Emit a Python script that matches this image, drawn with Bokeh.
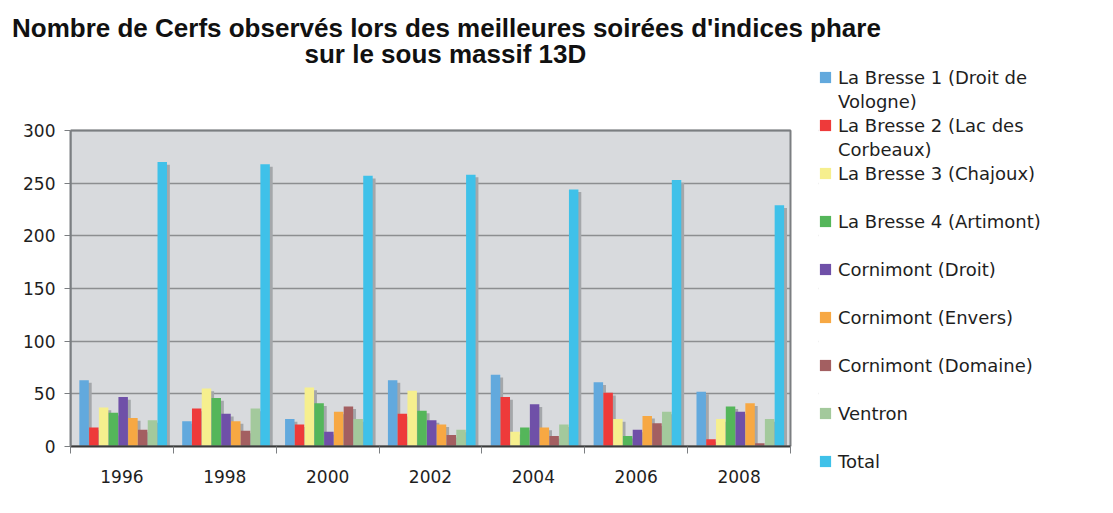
from bokeh.plotting import figure
from bokeh.models import Range1d, FixedTicker, Legend, LegendItem, Title
from bokeh.embed import file_html
from bokeh.resources import INLINE

years = ["1996", "1998", "2000", "2002", "2004", "2006", "2008"]
series_names = [
    "La Bresse 1 (Droit de\nVologne)",
    "La Bresse 2 (Lac des\nCorbeaux)",
    "La Bresse 3 (Chajoux)",
    "La Bresse 4 (Artimont)",
    "Cornimont (Droit)",
    "Cornimont (Envers)",
    "Cornimont (Domaine)",
    "Ventron",
    "Total",
]
la_bresse_1 = [63, 24, 26, 63, 68, 61, 52]
la_bresse_2 = [18, 36, 21, 31, 47, 51, 7]
la_bresse_3 = [37, 55, 56, 53, 14, 26, 26]
la_bresse_4 = [32, 46, 41, 34, 18, 10, 38]
cornimont_droit = [47, 31, 14, 25, 40, 16, 33]
cornimont_envers = [27, 24, 33, 21, 18, 29, 41]
cornimont_domaine = [16, 15, 38, 11, 10, 22, 3]
ventron = [25, 36, 26, 16, 21, 33, 26]
total = [270, 268, 257, 258, 244, 253, 229]
all_series = [la_bresse_1, la_bresse_2, la_bresse_3, la_bresse_4, cornimont_droit,
              cornimont_envers, cornimont_domaine, ventron, total]
colors = ["#62a9dd", "#ee3a3a", "#f6ef8e", "#54b65a", "#6f50a8", "#f7a843",
          "#a35f61", "#a3c99c", "#3fc1e9"]
y_ticks = [0, 50, 100, 150, 200, 250, 300]
y_max = 300
title_lines = ["Nombre de Cerfs observés lors des meilleures soirées d'indices phare",
               "sur le sous massif 13D"]

FONT = "DejaVu Sans"
FRAME_GRAY = "#7b7e81"
n = len(years)

# frame extends above and to the right of the plotting area (room for the legend)
x_end = n + 28 / 102.857
y_end = y_max + 61.7
p = figure(frame_width=748, frame_height=381, output_backend="svg", toolbar_location=None,
           x_range=Range1d(0, x_end), y_range=Range1d(0, y_end),
           min_border_left=70, min_border_right=5, min_border_top=0, min_border_bottom=45)
p.background_fill_color = "white"
p.border_fill_color = "white"
p.outline_line_color = None

p.xgrid.grid_line_color = None
p.ygrid.grid_line_color = "#8c8e90"
p.ygrid.grid_line_width = 1.5
p.ygrid.ticker = FixedTicker(ticks=y_ticks)

centers = [i + 0.5 for i in range(n)]
p.xaxis.ticker = FixedTicker(ticks=centers, minor_ticks=list(range(n + 1)))
p.xaxis.bounds = (0, n)
p.xaxis.major_label_overrides = {c: y for c, y in zip(centers, years)}
p.xaxis.major_tick_out = 0
p.xaxis.major_tick_in = 0
p.xaxis.minor_tick_out = 7
p.xaxis.minor_tick_in = 0
p.xaxis.minor_tick_line_color = FRAME_GRAY
p.xaxis.axis_line_color = "#3a3a3a"
p.xaxis.axis_line_width = 2
p.xaxis.major_label_standoff = 16
p.xaxis.major_label_text_font = FONT
p.xaxis.major_label_text_font_size = "17px"
p.xaxis.major_label_text_color = "#1e1e1e"

p.yaxis.ticker = FixedTicker(ticks=y_ticks)
p.yaxis.bounds = (0, y_max)
p.yaxis.major_tick_out = 6
p.yaxis.major_tick_in = 0
p.yaxis.minor_tick_out = 0
p.yaxis.minor_tick_in = 0
p.yaxis.axis_line_color = FRAME_GRAY
p.yaxis.axis_line_width = 2
p.yaxis.major_tick_line_color = FRAME_GRAY
p.yaxis.major_label_standoff = 9
p.yaxis.major_label_text_font = FONT
p.yaxis.major_label_text_font_size = "17px"
p.yaxis.major_label_text_color = "#1e1e1e"

# grey plotting area, drawn beneath the grid lines
p.quad(left=0, right=n, bottom=0, top=y_max, fill_color="#d8dadd", line_color=None,
       level="image")
# hide the grid lines in the legend strip to the right of the plotting area
p.quad(left=n, right=x_end + 0.2, bottom=-10, top=y_max + 10,
       fill_color="white", line_color=None)

pitch = 0.095
bw = 0.092
renderers = []
for i, vals in enumerate(all_series):
    xs = [c + (i - 4) * pitch + 0.012 + 0.028 for c in centers]
    tops = [max(v - 2.5, 0) for v in vals]
    p.vbar(x=xs, top=tops, bottom=0, width=bw, fill_color="#a4a7aa", line_color=None)
for i, vals in enumerate(all_series):
    xs = [c + (i - 4) * pitch + 0.012 for c in centers]
    r = p.vbar(x=xs, top=vals, bottom=0, width=bw, fill_color=colors[i], line_color=None)
    renderers.append(r)

# plot-area border
p.quad(left=0, right=n, bottom=0, top=y_max, fill_color=None,
       line_color=FRAME_GRAY, line_width=2)

dummy = p.vbar(x=[], top=[], width=0.1, fill_alpha=0, line_alpha=0)

items = []
for i, name in enumerate(series_names):
    lines = name.split("\n")
    items.append(LegendItem(label=lines[0], renderers=[renderers[i]]))
    if len(lines) > 1:
        items.append(LegendItem(label=lines[1], renderers=[dummy]))
    elif i < len(series_names) - 1:
        items.append(LegendItem(label=" ", renderers=[dummy]))

legend = Legend(items=items, location="top_left", padding=0, margin=0, spacing=0,
                label_height=24, glyph_width=14, glyph_height=14, label_standoff=6,
                label_text_font=FONT, label_text_font_size="18px",
                label_text_color="#1e1e1e", border_line_alpha=0,
                background_fill_alpha=0)
p.add_layout(legend, "right")

p.add_layout(Title(text=title_lines[1], align="left", offset=234, text_font="Liberation Sans",
                   text_font_style="bold", text_font_size="26px", text_color="#111",
                   standoff=-7), "above")
p.add_layout(Title(text=title_lines[0], align="left", offset=-58.5, text_font="Liberation Sans",
                   text_font_style="bold", text_font_size="26px", text_color="#111",
                   standoff=-5), "above")
p.add_layout(Title(text=" ", text_font_size="10px", standoff=0), "above")

open("out.html", "w").write(file_html(p, INLINE))
